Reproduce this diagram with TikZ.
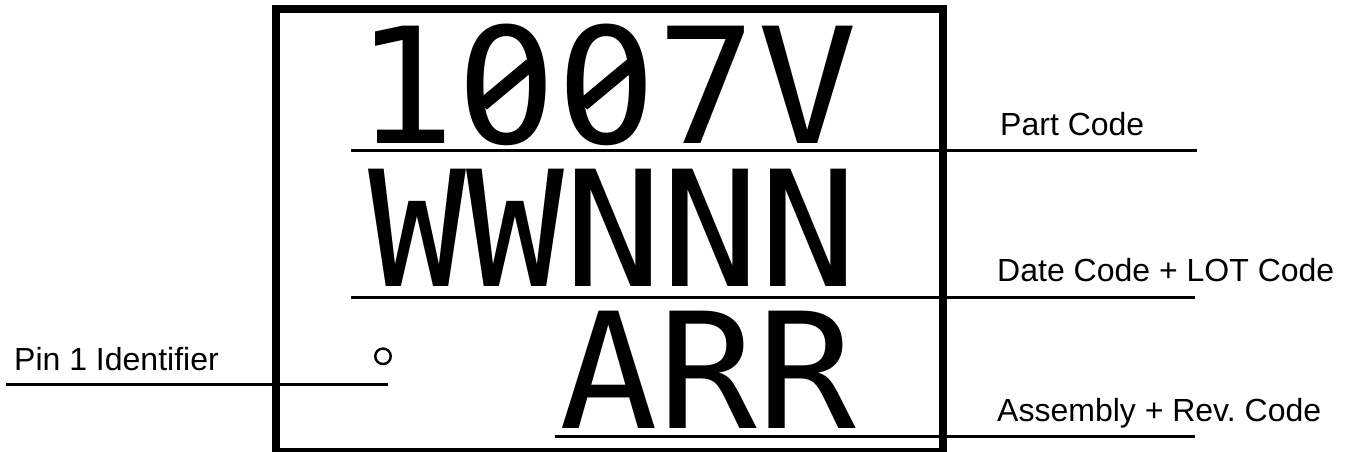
\documentclass[tikz,border=0pt]{standalone}
\usepackage{fontspec}
\usepackage{graphicx}
\setmainfont{Liberation Sans}
\newfontfamily\markfont{DejaVu Sans Mono}
\usetikzlibrary{positioning, calc}

\begin{document}
\begin{tikzpicture}[x=1pt, y=-1pt,
    marktext/.style={font=\markfont\fontsize{161}{161}\selectfont, inner sep=0pt, text height=118pt, text depth=0pt, anchor=base east},
    labeltext/.style={font=\fontsize{32}{32}\selectfont, inner sep=0pt, anchor=base west},
    leader/.style={line width=2.7pt}]
\useasboundingbox (0,0) rectangle (1351,451);

% package outline
\draw[line width=7.5pt] (276,9) rectangle (943,451.4);

% top marking
\node[marktext] (partcode) at (858,143.3) {\scalebox{1.036}[1]{1007V}};
\node[marktext] (datecode) at (858,286.7) {\scalebox{1.01}[1]{WWNNN}};
\node[marktext] (asmcode) at (856,428.3) {\scalebox{1.018}[1]{ARR}};
\node[draw, circle, line width=2.4pt, minimum size=15.5pt, inner sep=0pt] (pinmark) at (383,356.3) {};

% slashed zeros
\coordinate (zeroA) at (506.6,84.6);
\coordinate (zeroB) at (607,84.6);
\fill[white] (zeroA) ellipse (15 and 19);
\fill[white] (zeroB) ellipse (15 and 19);
\draw[line width=13pt] ($(zeroA)+(-24,20)$) -- ($(zeroA)+(24,-20)$);
\draw[line width=13pt] ($(zeroB)+(-24,20)$) -- ($(zeroB)+(24,-20)$);

% leader lines
\coordinate (partL) at (351,150.5);
\coordinate (partR) at (1197,150.5);
\coordinate (dateL) at (351,297.3);
\coordinate (dateR) at (1195,297.3);
\coordinate (asmL) at (555,436.7);
\coordinate (asmR) at (1195,436.7);
\coordinate (pinL) at (6,384.3);
\coordinate (pinR) at (388,384.3);
\draw[leader] (partL) -- (partR);
\draw[leader] (dateL) -- (dateR);
\draw[leader] (asmL) -- (asmR);
\draw[leader] (pinL) -- (pinR);

% labels
\node[labeltext] (partlabel) at (1000,135) {Part Code};
\node[labeltext] (datelabel) at (997,281.7) {Date Code + LOT Code};
\node[labeltext] (asmlabel) at (997,421.7) {Assembly + Rev.\ Code};
\node[labeltext] (pinlabel) at (14,370.7) {Pin 1 Identifier};
\end{tikzpicture}
\end{document}
